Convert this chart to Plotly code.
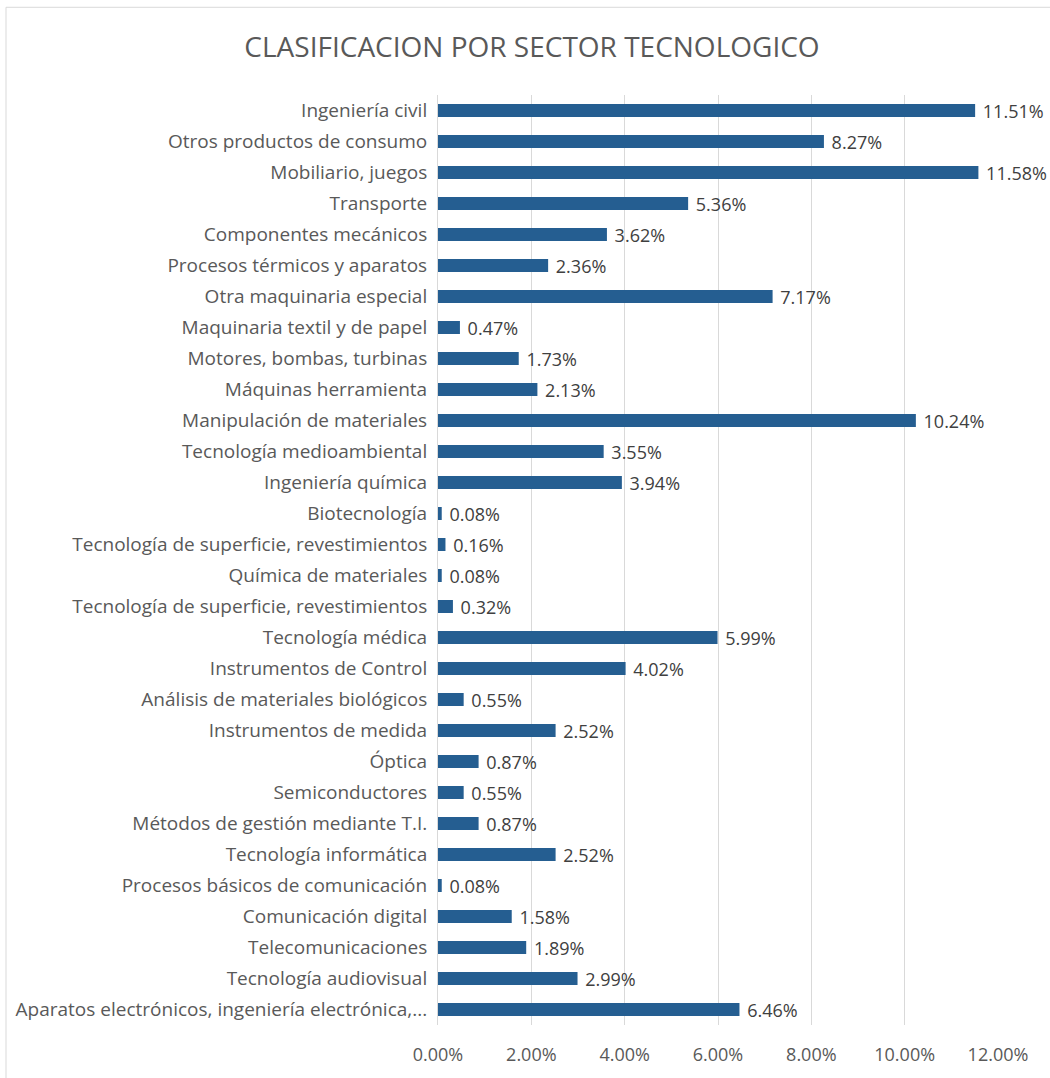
import plotly.graph_objects as go

categories = [
    "Ingeniería civil",
    "Otros productos de consumo",
    "Mobiliario, juegos",
    "Transporte",
    "Componentes mecánicos",
    "Procesos térmicos y aparatos",
    "Otra maquinaria especial",
    "Maquinaria textil y de papel",
    "Motores, bombas, turbinas",
    "Máquinas herramienta",
    "Manipulación de materiales",
    "Tecnología medioambiental",
    "Ingeniería química",
    "Biotecnología",
    "Tecnología de superficie, revestimientos",
    "Química de materiales",
    "Tecnología de superficie, revestimientos",
    "Tecnología médica",
    "Instrumentos de Control",
    "Análisis de materiales biológicos",
    "Instrumentos de medida",
    "Óptica",
    "Semiconductores",
    "Métodos de gestión mediante T.I.",
    "Tecnología informática",
    "Procesos básicos de comunicación",
    "Comunicación digital",
    "Telecomunicaciones",
    "Tecnología audiovisual",
    "Aparatos electrónicos, ingeniería electrónica,...",
]
values = [
    11.51, 8.27, 11.58, 5.36, 3.62, 2.36, 7.17, 0.47, 1.73, 2.13,
    10.24, 3.55, 3.94, 0.08, 0.16, 0.08, 0.32, 5.99, 4.02, 0.55,
    2.52, 0.87, 0.55, 0.87, 2.52, 0.08, 1.58, 1.89, 2.99, 6.46,
]
x_ticks = [0, 2, 4, 6, 8, 10, 12]
title_text = "CLASIFICACION POR SECTOR TECNOLOGICO"

positions = list(range(len(categories)))

FONT = "Open Sans"
GRAY = "#595959"

W, H = 1050, 1078
ML, MR, MT, MB = 438, 52, 95, 50

fig = go.Figure(
    go.Bar(
        x=values,
        y=positions,
        orientation="h",
        marker=dict(color="#255E91", line=dict(width=0)),
        text=[f" {v:.2f}%" for v in values],
        textposition="outside",
        textfont=dict(family=FONT, size=18, color="#404040"),
        cliponaxis=False,
        constraintext="none",
        hoverinfo="x+y",
    )
)

fig.update_layout(
    width=W,
    height=H,
    paper_bgcolor="white",
    plot_bgcolor="white",
    margin=dict(l=ML, r=MR, t=MT, b=MB),
    bargap=0.58,
    showlegend=False,
    title=dict(
        text=title_text,
        x=532 / W,
        xref="container",
        xanchor="center",
        y=1 - 47 / H,
        yref="container",
        yanchor="middle",
        font=dict(family=FONT, size=28, color=GRAY),
    ),
    font=dict(family=FONT, color=GRAY),
)

fig.update_xaxes(
    range=[0, 12],
    tickvals=x_ticks,
    ticktext=[f"{t:.2f}%" for t in x_ticks],
    tickfont=dict(family=FONT, size=18, color=GRAY),
    showgrid=True,
    gridcolor="#D9D9D9",
    gridwidth=1,
    zeroline=False,
    showline=False,
    ticks="outside",
    ticklen=13,
    tickcolor="rgba(0,0,0,0)",
)

fig.update_yaxes(
    tickvals=positions,
    ticktext=categories,
    range=[len(categories) - 0.5, -0.5],
    tickfont=dict(family=FONT, size=19, color=GRAY),
    showgrid=False,
    zeroline=False,
    showline=True,
    linecolor="#D9D9D9",
    linewidth=1,
    ticks="outside",
    ticklen=6,
    tickcolor="rgba(0,0,0,0)",
)

# light chart-area border (decoration)
plot_w = W - ML - MR
plot_h = H - MT - MB
fig.add_shape(
    type="rect",
    xref="paper",
    yref="paper",
    x0=(6 - ML) / plot_w,
    x1=(W + 5 - ML) / plot_w,
    y0=((H - MB) - (H + 5)) / plot_h,
    y1=((H - MB) - 7) / plot_h,
    line=dict(color="#D9D9D9", width=1),
    fillcolor="rgba(0,0,0,0)",
    layer="below",
)

fig.write_html(
    "out.html",
    config={"displayModeBar": False},
    post_script="document.body.style.margin='0';",
)
